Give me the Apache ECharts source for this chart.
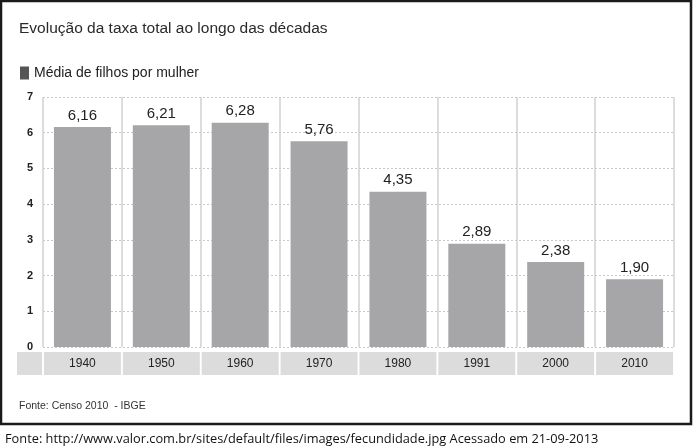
<!DOCTYPE html>
<html>
<head>
<meta charset="utf-8">
<script src="https://cdn.jsdelivr.net/npm/echarts@6/dist/echarts.min.js"></script>
<style>
    html, body {margin: 0; padding: 0; background: #fff;}
    #chart {width: 693px; height: 447px;}
</style>
</head>
<body>
<div id="chart"></div>
<script>
    var decades = ['1940', '1950', '1960', '1970', '1980', '1991', '2000', '2010'];
    var childrenPerWoman = [6.16, 6.21, 6.28, 5.76, 4.35, 2.89, 2.38, 1.90];
    var seriesName = 'Média de filhos por mulher';

    var chart = echarts.init(document.getElementById('chart'));
    var textFont = '"Liberation Sans", Arial, sans-serif';

    chart.setOption({
        animation: false,
        textStyle: {fontFamily: textFont},
        title: [
            {text: 'Evolução da taxa total ao longo das décadas', left: 14, top: 16,
                textStyle: {fontSize: 15.5, fontWeight: 'normal', color: '#2a2a2a', fontFamily: textFont}},
            {text: 'Fonte: Censo 2010  - IBGE', left: 14, top: 396,
                textStyle: {fontSize: 10.5, fontWeight: 'normal', color: '#333', fontFamily: textFont}},
            {text: 'Fonte: http://www.valor.com.br/sites/default/files/images/fecundidade.jpg Acessado em 21-09-2013',
                left: 0, top: 428,
                textStyle: {fontSize: 12.8, fontWeight: 'normal', color: '#111', fontFamily: '"Open Sans", sans-serif'}}
        ],
        legend: {
            left: 15, top: 61, icon: 'rect', itemWidth: 9, itemHeight: 13, itemGap: 7,
            data: [{name: seriesName, itemStyle: {color: '#555'}}],
            textStyle: {fontSize: 14, color: '#222'}
        },
        grid: {left: 43, right: 19, top: 97, bottom: 100},
        xAxis: {
            type: 'category',
            data: decades,
            axisLine: {show: false},
            axisTick: {show: false},
            splitLine: {show: true, lineStyle: {color: '#d0d0d0', width: 1.5}},
            axisLabel: {
                margin: 5, fontSize: 12, color: '#222',
                width: 77, height: 23, lineHeight: 23,
                align: 'center', verticalAlign: 'top',
                backgroundColor: '#dcdcdc'
            }
        },
        yAxis: {
            type: 'value',
            min: 0, max: 7, interval: 1,
            axisLine: {show: false},
            axisTick: {show: false},
            axisLabel: {margin: 10, fontSize: 11, color: '#222', fontWeight: 'bold'},
            splitLine: {lineStyle: {color: '#c8c8c8', type: [2, 2]}}
        },
        series: [{
            name: seriesName,
            type: 'bar',
            data: childrenPerWoman,
            barWidth: 57,
            itemStyle: {color: '#a6a6a8'},
            label: {
                show: true, position: 'top', distance: 4,
                fontSize: 15, color: '#222',
                formatter: function (p) { return p.value.toFixed(2).replace('.', ','); }
            }
        }],
        graphic: [
            {type: 'rect', shape: {x: 1, y: 1, width: 690, height: 423},
                style: {fill: 'none', stroke: '#1a1a1a', lineWidth: 2.5}, silent: true},
            {type: 'rect', shape: {x: 17, y: 352, width: 25, height: 23},
                style: {fill: '#dcdcdc'}, silent: true}
        ]
    });
</script>
</body>
</html>
